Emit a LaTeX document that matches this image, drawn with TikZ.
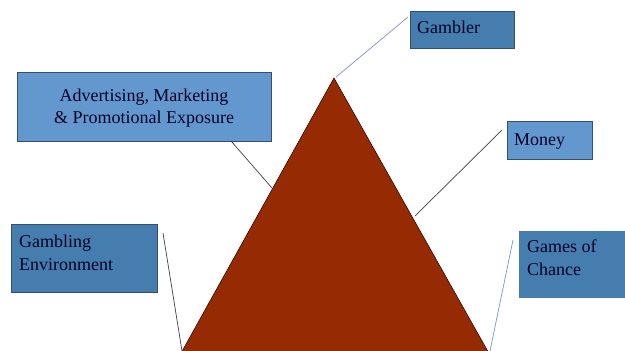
\documentclass[tikz,border=0pt]{standalone}
\usepackage{fontspec}
\setmainfont{Liberation Serif}
\definecolor{lightbox}{HTML}{6298CE}
\definecolor{darkbox}{HTML}{467DAF}
\definecolor{boxline}{HTML}{34506E}
\definecolor{tri}{HTML}{962A02}
\definecolor{purpleline}{HTML}{8A8AD0}
\definecolor{blueline}{HTML}{6A9AD0}
\begin{document}
\begin{tikzpicture}[x=1pt,y=-1pt,
  box/.style={draw=boxline, line width=0.8pt, inner sep=0pt, anchor=north west},
  lbox/.style={box, fill=lightbox},
  dbox/.style={box, fill=darkbox},
  txt/.style={font=\fontsize{18}{22.5}\selectfont, text=black!85!blue, inner sep=0pt},
  conn/.style={line width=0.7pt, draw=black!75}]
\useasboundingbox (0,0) rectangle (625,351);
\clip (0,0) rectangle (625,351);
% triangle
\coordinate (apex) at (334,78);
\coordinate (bl) at (175,364);
\coordinate (br) at (495,364);
\fill[tri, draw=black!70!tri, line width=0.6pt] (apex) -- (br) -- (bl) -- cycle;
% boxes
\node[dbox, minimum width=104, minimum height=37] (gambler) at (410,11) {};
\node[txt, anchor=base west] (tgambler) at (417,33) {Gambler};
\node[lbox, minimum width=254, minimum height=69] (adv) at (17,72) {};
\node[txt, align=center, anchor=center] (tadv) at (144,108) {Advertising, Marketing\\\& Promotional Exposure};
\node[lbox, minimum width=85, minimum height=38] (money) at (507,121) {};
\node[txt, anchor=base west] (tmoney) at (514,145) {Money};
\node[dbox, minimum width=146, minimum height=68] (env) at (11,224) {};
\node[txt, align=left, anchor=base west] (tenv) at (19,270) {Gambling\\Environment};
\node[dbox, draw=none, minimum width=120, minimum height=67] (games) at (519,231) {};
\node[txt, align=left, anchor=base west] (tgames) at (527,275) {Games of\\Chance};
% connectors
\coordinate (g1) at (408,17);
\coordinate (g2) at (336,77);
\draw[line width=0.7pt, draw=purpleline] (g1) -- (g2);
\coordinate (a1) at (231,141);
\coordinate (a2) at (272,188);
\draw[conn] (a1) -- (a2);
\coordinate (m1) at (502,130);
\coordinate (m2) at (415,216);
\draw[conn] (m1) -- (m2);
\coordinate (e1) at (163,233);
\coordinate (e2) at (182,351);
\draw[conn] (e1) -- (e2);
\coordinate (c1) at (513,240);
\coordinate (c2) at (490,351);
\draw[line width=0.7pt, draw=blueline] (c1) -- (c2);
\end{tikzpicture}
\end{document}
